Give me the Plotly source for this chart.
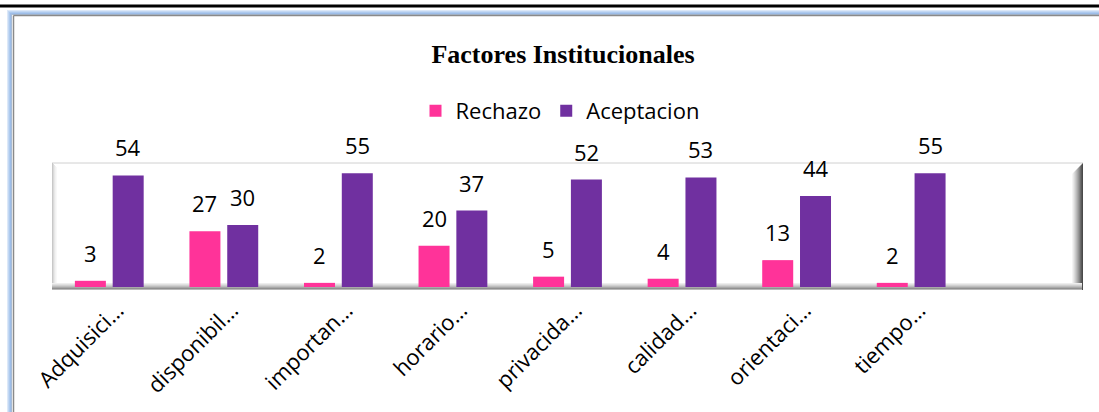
import plotly.graph_objects as go

categories = ["Adquisici…", "disponibil…", "importan…", "horario…", "privacida…",
              "calidad…", "orientaci…", "tiempo…", " "]
rechazo = [3, 27, 2, 20, 5, 4, 13, 2, None]
aceptacion = [54, 30, 55, 37, 52, 53, 44, 55, None]

PINK = "#FF3399"
PURPLE = "#7030A0"
FONT = "Open Sans, Lato, sans-serif"
LABEL_FONT = dict(family=FONT, size=22, color="#000000")

W, H = 1099, 412
L, R, T, B = 52, 1083, 163, 287  # plot area in pixels
BARGAP, GROUPGAP = 0.34, 0.18
OFFSET = (1 - BARGAP) / 4  # centre offset of each bar inside its category


def px(x):
    return (x - L) / (R - L)


def py(y):
    return (B - y) / (B - T)


fig = go.Figure()
fig.add_trace(go.Bar(name="Rechazo", x=categories, y=rechazo, marker_color=PINK,
                     marker_line_width=0))
fig.add_trace(go.Bar(name="Aceptacion", x=categories, y=aceptacion, marker_color=PURPLE,
                     marker_line_width=0))

annotations = []
for series, sign in ((rechazo, -1), (aceptacion, 1)):
    for i, v in enumerate(series):
        if v is None:
            continue
        annotations.append(dict(x=i + sign * OFFSET, y=v, xref="x", yref="y", text=str(v),
                                showarrow=False, yanchor="bottom", xanchor="center", yshift=11,
                                font=LABEL_FONT))

shapes = []
# black top line
shapes.append(dict(type="rect", xref="paper", yref="paper", x0=px(0), x1=px(W), y0=py(4.5), y1=py(7.5),
                   fillcolor="black", line_width=0, layer="above"))
# blue frame top and left
for i, c in enumerate(["#DCE8F8", "#C3D8F3", "#AECAEE", "#9DBDE8", "#A8BCD6"]):
    shapes.append(dict(type="rect", xref="paper", yref="paper", x0=px(7 + i), x1=px(8 + i),
                       y0=py(W), y1=py(10 + i), fillcolor=c, line_width=0, layer="above"))
    shapes.append(dict(type="rect", xref="paper", yref="paper", x0=px(7 + i), x1=px(W),
                       y0=py(11 + i), y1=py(10 + i), fillcolor=c, line_width=0, layer="above"))
shapes.append(dict(type="line", xref="paper", yref="paper", x0=px(13.5), x1=px(13.5),
                   y0=py(W), y1=py(15.5), line=dict(color="#8A8A8A", width=1.5), layer="above"))
shapes.append(dict(type="line", xref="paper", yref="paper", x0=px(13.5), x1=px(W),
                   y0=py(15.5), y1=py(15.5), line=dict(color="#8A8A8A", width=1.5), layer="above"))

# 3D box of plot area
shapes.append(dict(type="line", xref="paper", yref="paper", x0=px(L), x1=px(R), y0=py(T), y1=py(T),
                   line=dict(color="#D0D0D0", width=1), layer="below"))
for i, c in enumerate(["#C8C8C8", "#DADADA", "#E8E8E8", "#F2F2F2", "#F8F8F8"]):
    shapes.append(dict(type="rect", xref="paper", yref="paper", x0=px(L + i), x1=px(L + i + 1),
                       y0=py(B + 2), y1=py(T + i), fillcolor=c, line_width=0, layer="below"))
for i, c in enumerate(["#F4F4F4", "#E8E8E8", "#DADADA", "#CBCBCB", "#BBBBBB", "#AAAAAA",
                       "#989898", "#858585", "#6E6E6E", "#5A5A5A", "#4A4A4A"]):
    shapes.append(dict(type="path", xref="paper", yref="paper",
                       path=f"M {px(R - 11 + i)},{py(T + 11 - i)} L {px(R - 10 + i)},{py(T + 10 - i)} "
                            f"L {px(R - 10 + i)},{py(B + 3)} L {px(R - 11 + i)},{py(B + 3)} Z",
                       fillcolor=c, line_width=0, layer="below"))
for i, c in enumerate(["#EEEEEE", "#E0E0E0", "#D0D0D0", "#BEBEBE", "#A8A8A8", "#909090", "#B8B8B8"]):
    shapes.append(dict(type="rect", xref="paper", yref="paper", x0=px(L), x1=px(R - 1),
                       y0=py(B - 4 + i + 1), y1=py(B - 4 + i), fillcolor=c, line_width=0, layer="below"))

fig.update_layout(
    width=W, height=H,
    margin=dict(l=L, r=W - R, t=T, b=H - B, pad=0),
    paper_bgcolor="white", plot_bgcolor="white",
    barmode="group", bargap=BARGAP, bargroupgap=GROUPGAP,
    title=dict(text="<b>Factores Institucionales</b>", x=563 / W,
               xanchor="center", y=1 - 54 / H, yanchor="middle",
               font=dict(family="Liberation Serif, Times New Roman, serif", size=26, color="black")),
    legend=dict(orientation="h", x=px(560), xanchor="center", y=py(111), yanchor="middle",
                font=dict(family=FONT, size=22, color="black"),
                bgcolor="rgba(0,0,0,0)", itemwidth=30, tracegroupgap=0),
    xaxis=dict(range=[-0.5, 8.5], tickangle=-45, showgrid=False, showline=False, zeroline=False,
               ticks="", automargin=False, ticklabelshift=8, ticklabelstandoff=5,
               tickfont=dict(family=FONT, size=22, color="black")),
    yaxis=dict(range=[0, 60], visible=False, showgrid=False, zeroline=False, automargin=False),
    shapes=shapes,
    annotations=annotations,
    showlegend=True,
)

fig.write_html("out.html", config={"displayModeBar": False},
               post_script="document.body.style.margin='0px';")
